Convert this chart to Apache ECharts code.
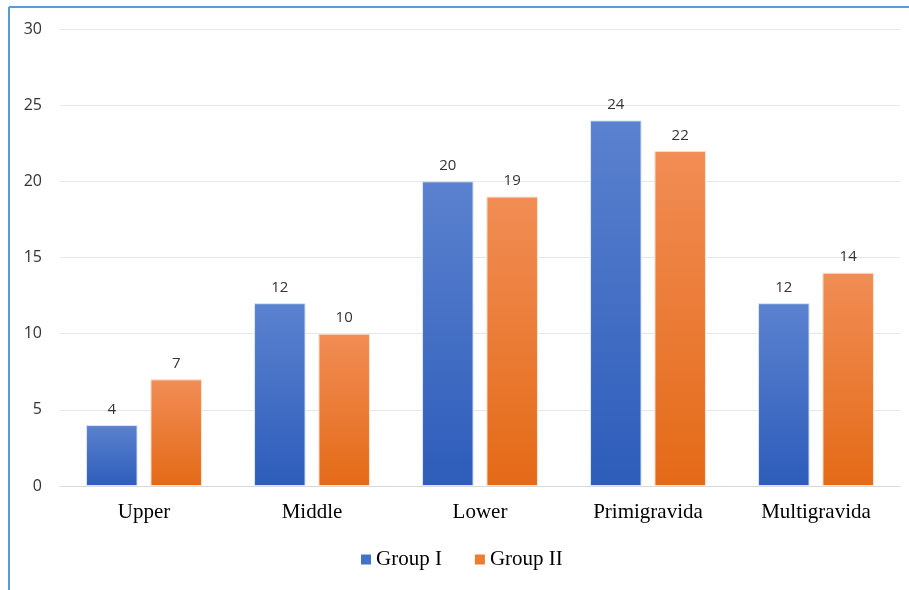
<!DOCTYPE html>
<html>
<head>
<meta charset="utf-8">
<script src="https://cdn.jsdelivr.net/npm/echarts@6/dist/echarts.min.js"></script>
<style>
  html, body { margin: 0; padding: 0; background: #fff; }
  #chart { width: 909px; height: 590px; }
</style>
</head>
<body>
<div id="chart"></div>
<script>
const categories = ['Upper', 'Middle', 'Lower', 'Primigravida', 'Multigravida']
const groupI = [4, 12, 20, 24, 12]
const groupII = [7, 10, 19, 22, 14]
const yTicks = { min: 0, max: 30, interval: 5 }

// 渐变色
function grad(top, bottom) {
  return new echarts.graphic.LinearGradient(0, 0, 0, 1, [
    { offset: 0, color: top },
    { offset: 1, color: bottom }
  ])
}

const labelStyle = {
  show: true,
  position: 'top',
  distance: 8,
  color: '#333',
  fontSize: 15,
  fontFamily: 'Open Sans'
}

const chart = echarts.init(document.getElementById('chart'))
chart.setOption({
  animation: false,
  // 左上角边框
  graphic: [
    { type: 'line', shape: { x1: 9, y1: 7, x2: 909, y2: 7 }, style: { stroke: '#5b9bd5', lineWidth: 2 } },
    { type: 'line', shape: { x1: 9, y1: 7, x2: 9, y2: 590 }, style: { stroke: '#5b9bd5', lineWidth: 2 } }
  ],
  grid: { left: 60, right: 9, top: 29, bottom: 104 },
  legend: {
    bottom: 15,
    left: 356,
    itemWidth: 10,
    itemHeight: 10,
    itemGap: 33,
    icon: 'rect',
    itemStyle: { borderWidth: 0 },
    textStyle: { fontFamily: 'Liberation Serif', fontSize: 21, color: '#000' },
    data: [
      { name: 'Group I', itemStyle: { color: '#4472c4', borderWidth: 0 } },
      { name: 'Group II', itemStyle: { color: '#ed7d31', borderWidth: 0 } }
    ]
  },
  xAxis: {
    type: 'category',
    data: categories,
    axisLine: { lineStyle: { color: '#d9d9d9' } },
    axisTick: { show: false },
    axisLabel: { fontFamily: 'Liberation Serif', fontSize: 21, color: '#000', margin: 16 }
  },
  yAxis: {
    type: 'value',
    min: yTicks.min,
    max: yTicks.max,
    interval: yTicks.interval,
    axisLine: { show: false },
    axisTick: { show: false },
    axisLabel: { fontFamily: 'Open Sans', fontSize: 16, color: '#333', margin: 18 },
    splitLine: { lineStyle: { color: '#e4e8ee' } }
  },
  series: [
    {
      name: 'Group I',
      type: 'bar',
      data: groupI,
      barGap: '25%',
      barCategoryGap: '31%',
      itemStyle: { color: grad('#5b82cf', '#2d5cba'), borderColor: '#dce6f5', borderWidth: 1 },
      label: labelStyle
    },
    {
      name: 'Group II',
      type: 'bar',
      data: groupII,
      itemStyle: { color: grad('#f18d55', '#e46a17'), borderColor: '#fbe3d3', borderWidth: 1 },
      label: labelStyle
    }
  ]
})
</script>
</body>
</html>
